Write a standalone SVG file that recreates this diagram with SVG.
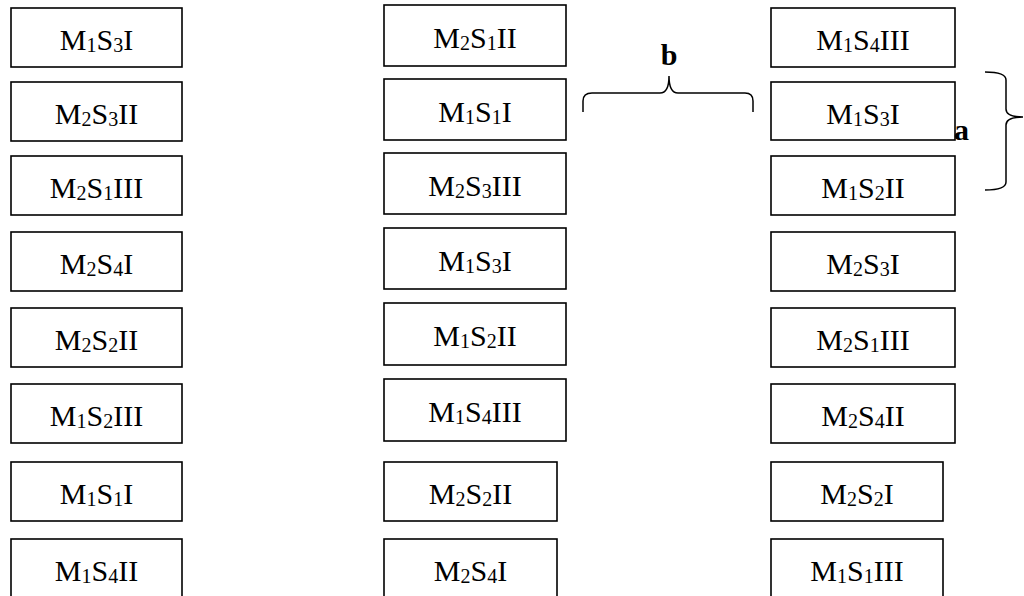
<svg xmlns="http://www.w3.org/2000/svg" width="1024" height="596" viewBox="0 0 1024 596">
<style>
rect.b{fill:#fff;stroke:#000;stroke-width:1.6}
text.t{font-family:"Liberation Serif","Times New Roman",serif;font-size:30px;text-anchor:middle;fill:#000}
tspan.s{font-size:20px}
text.l{font-family:"Liberation Serif","Times New Roman",serif;font-size:30px;font-weight:bold;fill:#000}
path.br{fill:none;stroke:#000;stroke-width:1.5}
</style>
<rect width="1024" height="596" fill="#fff"/>
<g id="L1"><rect class="b" x="11" y="8" width="171" height="59"/><text class="t" x="96.5" y="50">M<tspan class="s" dy="2">1</tspan><tspan dy="-2">S</tspan><tspan class="s" dy="2">3</tspan><tspan dy="-2">I</tspan></text></g>
<g id="L2"><rect class="b" x="11" y="82" width="171" height="59"/><text class="t" x="96.5" y="124">M<tspan class="s" dy="2">2</tspan><tspan dy="-2">S</tspan><tspan class="s" dy="2">3</tspan><tspan dy="-2">II</tspan></text></g>
<g id="L3"><rect class="b" x="11" y="156" width="171" height="59"/><text class="t" x="96.5" y="198">M<tspan class="s" dy="2">2</tspan><tspan dy="-2">S</tspan><tspan class="s" dy="2">1</tspan><tspan dy="-2">III</tspan></text></g>
<g id="L4"><rect class="b" x="11" y="232" width="171" height="59"/><text class="t" x="96.5" y="274">M<tspan class="s" dy="2">2</tspan><tspan dy="-2">S</tspan><tspan class="s" dy="2">4</tspan><tspan dy="-2">I</tspan></text></g>
<g id="L5"><rect class="b" x="11" y="308" width="171" height="59"/><text class="t" x="96.5" y="350">M<tspan class="s" dy="2">2</tspan><tspan dy="-2">S</tspan><tspan class="s" dy="2">2</tspan><tspan dy="-2">II</tspan></text></g>
<g id="L6"><rect class="b" x="11" y="384" width="171" height="59"/><text class="t" x="96.5" y="426">M<tspan class="s" dy="2">1</tspan><tspan dy="-2">S</tspan><tspan class="s" dy="2">2</tspan><tspan dy="-2">III</tspan></text></g>
<g id="L7"><rect class="b" x="11" y="462" width="171" height="59"/><text class="t" x="96.5" y="504">M<tspan class="s" dy="2">1</tspan><tspan dy="-2">S</tspan><tspan class="s" dy="2">1</tspan><tspan dy="-2">I</tspan></text></g>
<g id="L8"><rect class="b" x="11" y="539" width="171" height="62"/><text class="t" x="96.5" y="581">M<tspan class="s" dy="2">1</tspan><tspan dy="-2">S</tspan><tspan class="s" dy="2">4</tspan><tspan dy="-2">II</tspan></text></g>

<g id="M1"><rect class="b" x="384" y="5" width="182" height="61"/><text class="t" x="475" y="48">M<tspan class="s" dy="2">2</tspan><tspan dy="-2">S</tspan><tspan class="s" dy="2">1</tspan><tspan dy="-2">II</tspan></text></g>
<g id="M2"><rect class="b" x="384" y="79" width="182" height="61"/><text class="t" x="475" y="122">M<tspan class="s" dy="2">1</tspan><tspan dy="-2">S</tspan><tspan class="s" dy="2">1</tspan><tspan dy="-2">I</tspan></text></g>
<g id="M3"><rect class="b" x="384" y="153" width="182" height="61"/><text class="t" x="475" y="196">M<tspan class="s" dy="2">2</tspan><tspan dy="-2">S</tspan><tspan class="s" dy="2">3</tspan><tspan dy="-2">III</tspan></text></g>
<g id="M4"><rect class="b" x="384" y="228" width="182" height="61"/><text class="t" x="475" y="271">M<tspan class="s" dy="2">1</tspan><tspan dy="-2">S</tspan><tspan class="s" dy="2">3</tspan><tspan dy="-2">I</tspan></text></g>
<g id="M5"><rect class="b" x="384" y="303" width="182" height="62"/><text class="t" x="475" y="346">M<tspan class="s" dy="2">1</tspan><tspan dy="-2">S</tspan><tspan class="s" dy="2">2</tspan><tspan dy="-2">II</tspan></text></g>
<g id="M6"><rect class="b" x="384" y="379" width="182" height="62"/><text class="t" x="475" y="422">M<tspan class="s" dy="2">1</tspan><tspan dy="-2">S</tspan><tspan class="s" dy="2">4</tspan><tspan dy="-2">III</tspan></text></g>
<g id="M7"><rect class="b" x="384" y="462" width="173" height="59"/><text class="t" x="470.5" y="504">M<tspan class="s" dy="2">2</tspan><tspan dy="-2">S</tspan><tspan class="s" dy="2">2</tspan><tspan dy="-2">II</tspan></text></g>
<g id="M8"><rect class="b" x="384" y="539" width="173" height="62"/><text class="t" x="470.5" y="581">M<tspan class="s" dy="2">2</tspan><tspan dy="-2">S</tspan><tspan class="s" dy="2">4</tspan><tspan dy="-2">I</tspan></text></g>

<g id="R1"><rect class="b" x="771" y="8" width="184" height="59"/><text class="t" x="863" y="50">M<tspan class="s" dy="2">1</tspan><tspan dy="-2">S</tspan><tspan class="s" dy="2">4</tspan><tspan dy="-2">III</tspan></text></g>
<g id="R2"><rect class="b" x="771" y="82" width="184" height="58"/><text class="t" x="863" y="124">M<tspan class="s" dy="2">1</tspan><tspan dy="-2">S</tspan><tspan class="s" dy="2">3</tspan><tspan dy="-2">I</tspan></text></g>
<g id="R3"><rect class="b" x="771" y="156" width="184" height="59"/><text class="t" x="863" y="198">M<tspan class="s" dy="2">1</tspan><tspan dy="-2">S</tspan><tspan class="s" dy="2">2</tspan><tspan dy="-2">II</tspan></text></g>
<g id="R4"><rect class="b" x="771" y="232" width="184" height="59"/><text class="t" x="863" y="274">M<tspan class="s" dy="2">2</tspan><tspan dy="-2">S</tspan><tspan class="s" dy="2">3</tspan><tspan dy="-2">I</tspan></text></g>
<g id="R5"><rect class="b" x="771" y="308" width="184" height="59"/><text class="t" x="863" y="350">M<tspan class="s" dy="2">2</tspan><tspan dy="-2">S</tspan><tspan class="s" dy="2">1</tspan><tspan dy="-2">III</tspan></text></g>
<g id="R6"><rect class="b" x="771" y="384" width="184" height="59"/><text class="t" x="863" y="426">M<tspan class="s" dy="2">2</tspan><tspan dy="-2">S</tspan><tspan class="s" dy="2">4</tspan><tspan dy="-2">II</tspan></text></g>
<g id="R7"><rect class="b" x="771" y="462" width="172" height="59"/><text class="t" x="857" y="504">M<tspan class="s" dy="2">2</tspan><tspan dy="-2">S</tspan><tspan class="s" dy="2">2</tspan><tspan dy="-2">I</tspan></text></g>
<g id="R8"><rect class="b" x="771" y="539" width="172" height="62"/><text class="t" x="857" y="581">M<tspan class="s" dy="2">1</tspan><tspan dy="-2">S</tspan><tspan class="s" dy="2">1</tspan><tspan dy="-2">III</tspan></text></g>

<g id="connectors">
<g id="brace-b"><path class="br" d="M583 112 L583 101 Q583 93 592 93 L660 93 Q669 93 669 76 Q669 93 678 93 L745 93 Q753 93 753 101 L753 112"/><text class="l" x="669" y="65" text-anchor="middle">b</text></g>
<g id="brace-a"><path class="br" d="M985 72 Q1006 72 1006 80 L1006 109 Q1006 117 1023 117 Q1006 117 1006 125 L1006 182 Q1006 190 985 190"/><text class="l" x="954" y="140">a</text></g>
</g>
</svg>
